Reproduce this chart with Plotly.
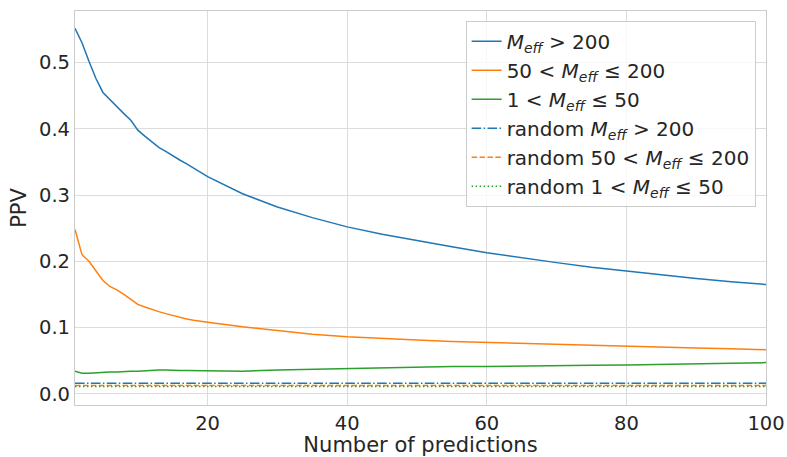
import plotly.graph_objects as go

# ── data ──────────────────────────────────────────────────────────────────────
n_pred = [1, 2, 3, 4, 5, 6, 7, 8, 9, 10, 11, 12, 13, 14, 15, 16, 17, 18, 19, 20,
          25, 30, 35, 40, 45, 50, 55, 60, 65, 70, 75, 80, 85, 90, 95, 100]

ppv_high = [0.552, 0.530, 0.502, 0.476, 0.455, 0.444, 0.434, 0.423, 0.413, 0.398,
            0.389, 0.381, 0.372, 0.366, 0.359, 0.353, 0.347, 0.341, 0.335, 0.328,
            0.302, 0.282, 0.266, 0.252, 0.241, 0.231, 0.222, 0.213, 0.205, 0.198,
            0.191, 0.185, 0.179, 0.174, 0.169, 0.165]
ppv_mid = [0.248, 0.210, 0.200, 0.185, 0.171, 0.162, 0.157, 0.150, 0.143, 0.135,
           0.131, 0.127, 0.124, 0.121, 0.118, 0.116, 0.113, 0.111, 0.109, 0.108,
           0.101, 0.095, 0.090, 0.086, 0.083, 0.081, 0.079, 0.0775, 0.076, 0.074,
           0.073, 0.0715, 0.070, 0.069, 0.068, 0.0665]
ppv_low = [0.034, 0.031, 0.031, 0.032, 0.033, 0.033, 0.033, 0.034, 0.034, 0.034,
           0.035, 0.035, 0.036, 0.036, 0.035, 0.035, 0.035, 0.035, 0.035, 0.035,
           0.034, 0.036, 0.037, 0.0385, 0.039, 0.040, 0.041, 0.041, 0.042, 0.042,
           0.043, 0.0435, 0.044, 0.045, 0.046, 0.047]

rand_high = 0.016
rand_mid = 0.0125
rand_low = 0.011

M = "<i>M</i><sub><i>eff</i></sub>"
names = [f"{M} > 200", f"50 < {M} ≤ 200", f"1 < {M} ≤ 50",
         f"random {M} > 200", f"random 50 < {M} ≤ 200", f"random 1 < {M} ≤ 50"]

_BLUE = "#1f77b4"
_ORANGE = "#ff7f0e"
_GREEN = "#2ca02c"
_GRID = "#dcdcdc"
_TEXT = "#262626"

# matplotlib-like dash patterns at 1.5px line width
_DASHDOT = "9.6px,2.4px,1.5px,2.4px"
_DASHED = "5.5px,2.4px"
_DOTTED = "1.5px,2.5px"

fig = go.Figure()
for y, name, col in [(ppv_high, names[0], _BLUE), (ppv_mid, names[1], _ORANGE),
                     (ppv_low, names[2], _GREEN)]:
    fig.add_trace(go.Scatter(x=n_pred, y=y, mode="lines", name=name,
                             line=dict(color=col, width=1.5)))

for val, name, col, dash in [(rand_high, names[3], _BLUE, _DASHDOT),
                             (rand_mid, names[4], _ORANGE, _DASHED),
                             (rand_low, names[5], _GREEN, _DOTTED)]:
    fig.add_trace(go.Scatter(x=[n_pred[0], n_pred[-1]], y=[val, val], mode="lines",
                             name=name, line=dict(color=col, width=1.5, dash=dash)))

axis_common = dict(
    showgrid=True, gridcolor=_GRID, gridwidth=1,
    showline=True, linecolor="#cccccc", linewidth=1.2, mirror=True,
    zeroline=False, ticks="", automargin=False,
    tickfont=dict(size=19.5, color=_TEXT),
    title_font=dict(size=21, color=_TEXT),
)

fig.update_layout(
    width=787, height=457,
    paper_bgcolor="white", plot_bgcolor="white",
    font=dict(family="DejaVu Sans", color=_TEXT),
    margin=dict(l=75, r=21, t=11, b=52),
    xaxis=dict(range=[1, 100], tickvals=[20, 40, 60, 80, 100],
               title=dict(text="Number of predictions", standoff=0), **axis_common),
    yaxis=dict(range=[-0.017, 0.578], tickvals=[0, 0.1, 0.2, 0.3, 0.4, 0.5],
               tickformat=".1f", title=dict(text="PPV", standoff=6), **axis_common),
    legend=dict(
        x=0.985, y=0.975, xanchor="right", yanchor="top",
        bgcolor="rgba(255,255,255,0.8)", bordercolor="#cccccc", borderwidth=1,
        font=dict(size=20, color=_TEXT), tracegroupgap=0,
    ),
    showlegend=True,
)

# page body has a default margin; drop it so the figure sits at the window origin
fig.write_html("out.html", post_script="document.body.style.margin='0';",
               config={"displayModeBar": False})
